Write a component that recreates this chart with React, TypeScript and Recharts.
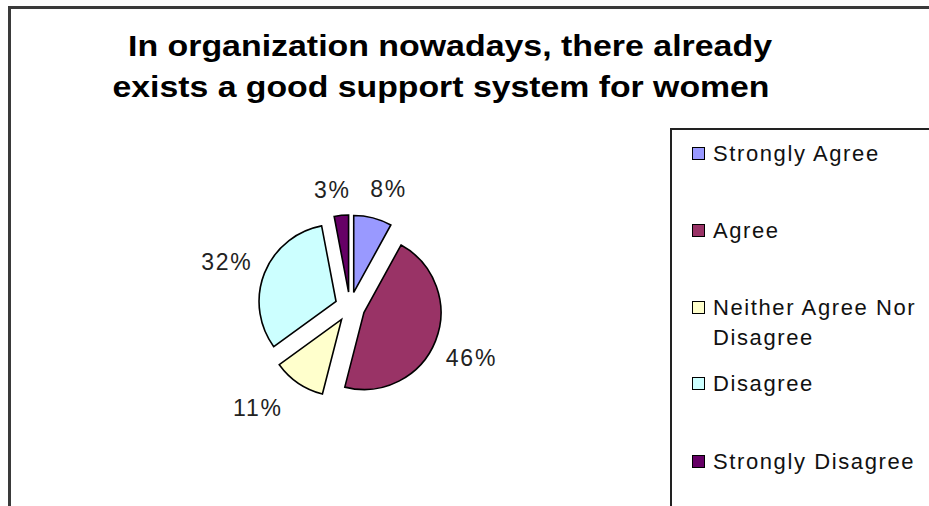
import React from "react";
import { PieChart, Pie } from "recharts";

const categories = [
  "Strongly Agree",
  "Agree",
  "Neither Agree Nor Disagree",
  "Disagree",
  "Strongly Disagree",
];
const shares = [8, 46, 11, 32, 3];
const sliceColors = ["#9999FF", "#993366", "#FFFFCC", "#CCFFFF", "#660066"];
const titleLines = [
  "In organization nowadays, there already",
  "exists a good support system for women",
];

const CX = 345;
const CY = 302;
const RADIUS = 77;
const EXPLODE = 15;
// distance of each percent label beyond the slice edge, plus a small nudge
const LABEL_GAPS = [27, 44, 47, 34, 21];
const LABEL_NUDGE = [
  [9, -3],
  [-5, 1],
  [-14, -14],
  [-6, 1],
  [-7, -5],
];

const total = shares.reduce((a, b) => a + b, 0);

// every slice is pulled out along its mid angle, like the old Excel "exploded" pie
const slices = categories.map((name, i) => {
  const before = shares.slice(0, i).reduce((a, b) => a + b, 0);
  const start = 90 - (before / total) * 360;
  const end = start - (shares[i] / total) * 360;
  const mid = (((start + end) / 2) * Math.PI) / 180;
  return {
    name,
    value: shares[i],
    color: sliceColors[i],
    start,
    end,
    cx: CX + EXPLODE * Math.cos(mid),
    cy: CY - EXPLODE * Math.sin(mid),
  };
});

const font = "'Liberation Sans', Arial, sans-serif";

const makeLabel = (i: number) => (props: any) => {
  const { cx, cy, midAngle, outerRadius, value } = props;
  const rad = (midAngle * Math.PI) / 180;
  const r = outerRadius + LABEL_GAPS[i];
  return (
    <text
      x={cx + r * Math.cos(rad) + LABEL_NUDGE[i][0]}
      y={cy - r * Math.sin(rad) + LABEL_NUDGE[i][1]}
      textAnchor="middle"
      dominantBaseline="central"
      fill="#222"
      fontFamily={font}
      fontSize={23}
      letterSpacing={1.8}
    >
      {`${Math.round((value / total) * 100)}%`}
    </text>
  );
};

const legendTops = [139, 216, 293, 369, 447];

export default function App() {
  return (
    <div
      style={{
        position: "absolute",
        left: 0,
        top: 0,
        width: 929,
        height: 506,
        background: "#fff",
        overflow: "hidden",
      }}
    >
      {/* outer chart frame, only top and left edges are inside the crop */}
      <div
        style={{
          position: "absolute",
          left: 8,
          top: 6,
          width: 940,
          height: 520,
          borderLeft: "3px solid #3a3a3a",
          borderTop: "3px solid #3a3a3a",
        }}
      />
      <svg
        width={929}
        height={120}
        style={{ position: "absolute", left: 0, top: 0 }}
      >
        <text
          x={450}
          y={56}
          textAnchor="middle"
          fontFamily={font}
          fontWeight="bold"
          fontSize={30}
          fill="#000"
          textLength={644}
          lengthAdjust="spacingAndGlyphs"
        >
          {titleLines[0]}
        </text>
        <text
          x={441}
          y={97}
          textAnchor="middle"
          fontFamily={font}
          fontWeight="bold"
          fontSize={30}
          fill="#000"
          textLength={657}
          lengthAdjust="spacingAndGlyphs"
        >
          {titleLines[1]}
        </text>
      </svg>
      <div style={{ position: "absolute", left: 0, top: 0 }}>
        <PieChart width={929} height={506}>
          {slices.map((s, i) => (
            <Pie
              key={s.name}
              data={[{ name: s.name, value: s.value, fill: s.color }]}
              dataKey="value"
              nameKey="name"
              cx={s.cx}
              cy={s.cy}
              startAngle={s.start}
              endAngle={s.end}
              outerRadius={RADIUS}
              innerRadius={0}
              stroke="#000"
              strokeWidth={1.6}
              label={makeLabel(i)}
              labelLine={false}
              isAnimationActive={false}
            />
          ))}
        </PieChart>
      </div>
      {/* legend box */}
      <div
        style={{
          position: "absolute",
          left: 670,
          top: 128,
          width: 300,
          height: 400,
          borderLeft: "2px solid #222",
          borderTop: "2px solid #222",
        }}
      />
      {categories.map((name, i) => (
        <div
          key={name}
          style={{
            position: "absolute",
            left: 692,
            top: legendTops[i],
            display: "flex",
            alignItems: "flex-start",
            fontFamily: font,
            fontSize: 22,
            lineHeight: "30px",
            color: "#111",
            letterSpacing: 1.6,
          }}
        >
          <span
            style={{
              width: 11,
              height: 11,
              marginTop: 8,
              marginRight: 8,
              background: sliceColors[i],
              border: "1.5px solid #000",
              flexShrink: 0,
            }}
          />
          <span style={{ width: 216 }}>{name}</span>
        </div>
      ))}
    </div>
  );
}
